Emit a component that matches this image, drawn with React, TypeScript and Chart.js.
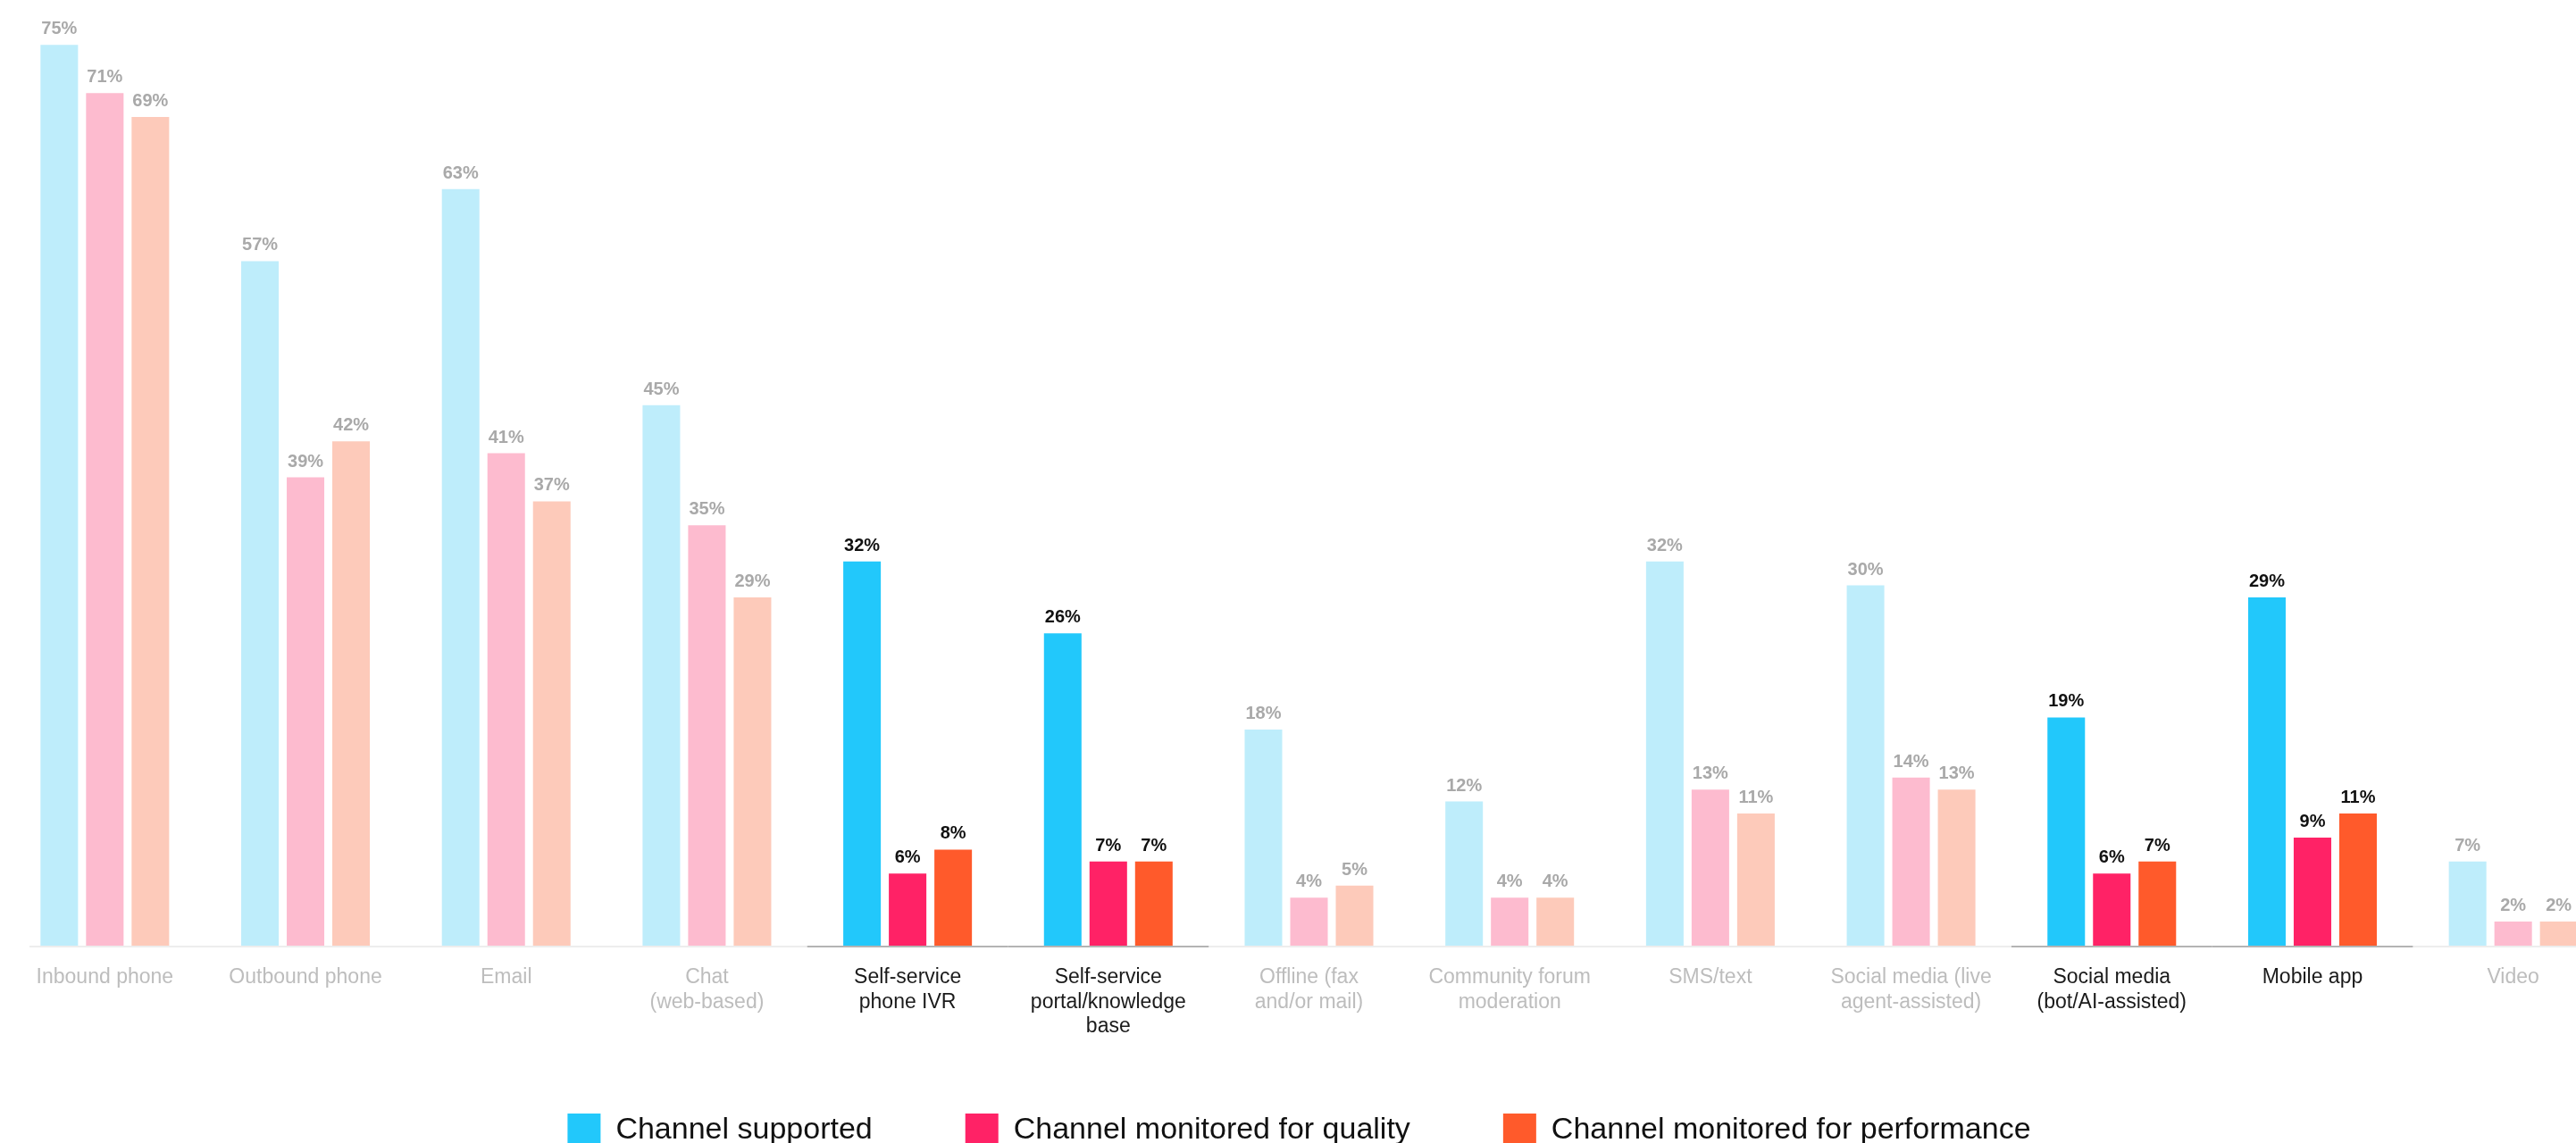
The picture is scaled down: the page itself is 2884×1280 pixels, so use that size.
import React, { useEffect, useRef } from "react";
import { Chart, registerables } from "chart.js";

Chart.register(...registerables);

const categories: (string | string[])[] = [
  "Inbound phone",
  "Outbound phone",
  "Email",
  ["Chat", "(web-based)"],
  ["Self-service", "phone IVR"],
  ["Self-service", "portal/knowledge", "base"],
  ["Offline (fax", "and/or mail)"],
  ["Community forum", "moderation"],
  "SMS/text",
  ["Social media (live", "agent-assisted)"],
  ["Social media", "(bot/AI-assisted)"],
  "Mobile app",
  "Video",
];

const highlighted = [4, 5, 10, 11];

const seriesNames = [
  "Channel supported",
  "Channel monitored for quality",
  "Channel monitored for performance",
];

const supported = [75, 57, 63, 45, 32, 26, 18, 12, 32, 30, 19, 29, 7];
const quality = [71, 39, 41, 35, 6, 7, 4, 4, 13, 14, 6, 9, 2];
const performance = [69, 42, 37, 29, 8, 7, 5, 4, 11, 13, 7, 11, 2];

const fullColors = ["#22C8FB", "#FF2266", "#FF5A2B"];
const fadedColors = ["#BEEDFB", "#FDBBCF", "#FDCABA"];

const FONT = "'Liberation Sans', Arial, sans-serif";

const colorFor = (series: number) =>
  categories.map((_, i) =>
    highlighted.includes(i) ? fullColors[series] : fadedColors[series]
  );

const baselinePlugin = {
  id: "baselinePlugin",
  beforeDatasetsDraw(chart: any) {
    const { ctx, chartArea } = chart;
    const x = chart.scales.x;
    const y = chartArea.bottom + 1;
    ctx.save();
    ctx.lineWidth = 2;
    ctx.strokeStyle = "#ededed";
    ctx.beginPath();
    ctx.moveTo(chartArea.left + 28, y);
    ctx.lineTo(chartArea.right, y);
    ctx.stroke();
    const w = x.getPixelForValue(1) - x.getPixelForValue(0);
    ctx.strokeStyle = "#b4b4b4";
    highlighted.forEach((i) => {
      const c = x.getPixelForValue(i);
      ctx.beginPath();
      ctx.moveTo(c - w / 2, y);
      ctx.lineTo(c + w / 2, y);
      ctx.stroke();
    });
    ctx.restore();
  },
};

const valueLabelPlugin = {
  id: "valueLabelPlugin",
  afterDatasetsDraw(chart: any) {
    const { ctx } = chart;
    ctx.save();
    ctx.font = `bold 20px ${FONT}`;
    ctx.textAlign = "center";
    ctx.textBaseline = "alphabetic";
    chart.data.datasets.forEach((ds: any, di: number) => {
      const meta = chart.getDatasetMeta(di);
      meta.data.forEach((bar: any, i: number) => {
        ctx.fillStyle = highlighted.includes(i) ? "#111111" : "#a9a9a9";
        ctx.fillText(`${ds.data[i]}%`, bar.x, bar.y - 12);
      });
    });
    ctx.restore();
  },
};

export default function App() {
  const canvasRef = useRef<HTMLCanvasElement | null>(null);

  useEffect(() => {
    if (!canvasRef.current) return;
    const chart = new Chart(canvasRef.current, {
      type: "bar",
      data: {
        labels: categories,
        datasets: [
          { label: seriesNames[0], data: supported, backgroundColor: colorFor(0) },
          { label: seriesNames[1], data: quality, backgroundColor: colorFor(1) },
          { label: seriesNames[2], data: performance, backgroundColor: colorFor(2) },
        ],
      },
      options: {
        responsive: false,
        animation: false,
        devicePixelRatio: 1,
        layout: { padding: { top: 10, left: 5, right: 4, bottom: 0 } },
        datasets: {
          bar: { categoryPercentage: 0.681, barPercentage: 0.824 },
        },
        scales: {
          x: {
            grid: { display: false, drawTicks: false },
            border: { display: false },
            ticks: {
              autoSkip: false,
              maxRotation: 0,
              minRotation: 0,
              padding: 22,
              font: { family: FONT, size: 23, lineHeight: 1.2 },
              color: (ctx: any) =>
                highlighted.includes(ctx.index) ? "#1a1a1a" : "#bdbdbd",
            },
            afterFit: (scale: any) => {
              scale.height = 84;
              scale._computeLabelArea = () => undefined;
            },
          },
          y: {
            display: true,
            position: "left",
            min: 0,
            max: 78,
            grid: { display: false, drawTicks: false },
            border: { display: false },
            ticks: { display: false },
            afterFit: (scale: any) => {
              scale.width = 22;
            },
          },
        },
        plugins: {
          tooltip: { enabled: false },
          legend: {
            position: "bottom",
            labels: {
              boxWidth: 37,
              boxHeight: 37,
              padding: 104,
              color: "#111111",
              font: { family: FONT, size: 34 },
              generateLabels: () =>
                seriesNames.map((name, i) => ({
                  text: name,
                  fillStyle: fullColors[i],
                  strokeStyle: fullColors[i],
                  lineWidth: 0,
                  fontColor: "#111111",
                  hidden: false,
                  datasetIndex: i,
                })),
            },
          },
        },
      },
      plugins: [baselinePlugin, valueLabelPlugin],
    });
    return () => chart.destroy();
  }, []);

  return (
    <div
      style={{
        position: "fixed",
        left: 0,
        top: 0,
        width: 2884,
        height: 1280,
        overflow: "hidden",
        background: "#ffffff",
      }}
    >
      <canvas
        ref={canvasRef}
        width={2952}
        height={1294}
        style={{ width: 2952, height: 1294, display: "block", marginLeft: -22 }}
      />
    </div>
  );
}
